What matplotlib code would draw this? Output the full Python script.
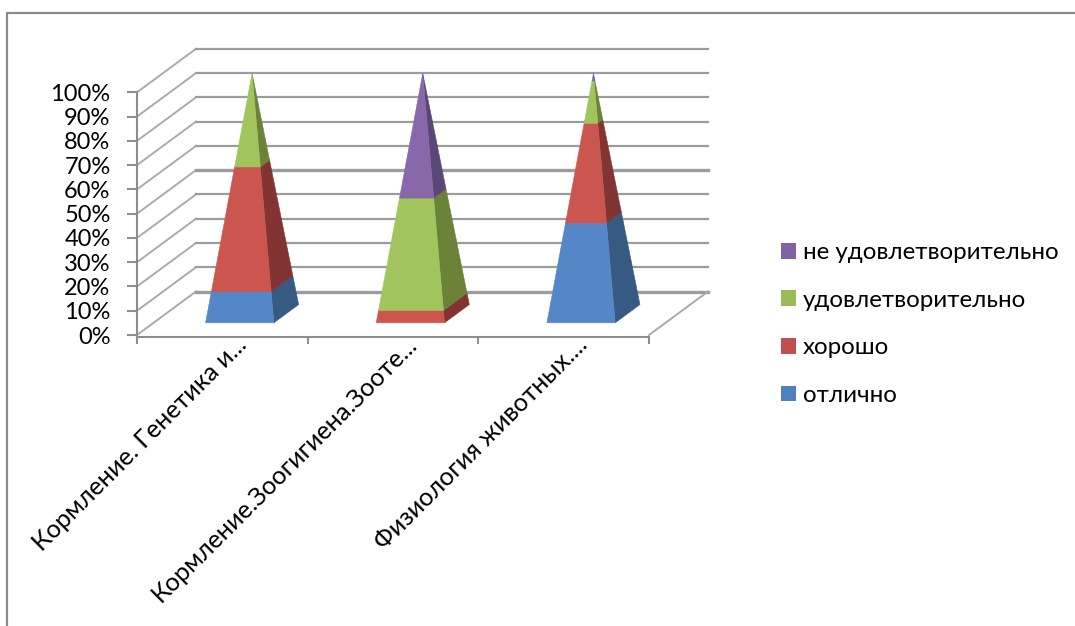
import matplotlib
matplotlib.use("Agg")
import matplotlib.pyplot as plt
from matplotlib.lines import Line2D
from matplotlib.patches import Patch, Polygon

FONT = ["Lato", "Open Sans", "DejaVu Sans"]
plt.rcParams["font.family"] = FONT

categories = ["Кормление. Генетика и...", "Кормление.Зоогигиена.Зооте...", "Физиология животных...."]
series_names = ["отлично", "хорошо", "удовлетворительно", "не удовлетворительно"]
otlichno = [12.5, 0, 40]
horosho = [50, 5, 40]
udovl = [37.5, 45, 17]
ne_udovl = [0, 50, 3]
y_ticks = [0, 10, 20, 30, 40, 50, 60, 70, 80, 90, 100]
series = [otlichno, horosho, udovl, ne_udovl]

front_cols = ["#5586C8", "#CB5650", "#A2C45C", "#8868A9"]
side_cols = ["#365A82", "#823432", "#6B8239", "#5A4776"]
legend_cols = ["#4F81BD", "#C0504D", "#9BBB59", "#8064A2"]
GRID = "#9C9C9C"
AXIS = "#8E8E8E"

W, H = 1075, 626
fig = plt.figure(figsize=(W / 100, H / 100), dpi=100, facecolor="white")
fig.add_artist(Line2D([6.5 / W, 6.5 / W, 1.0], [0, 1 - 12.5 / H, 1 - 12.5 / H],
                      transform=fig.transFigure, color="#8A8A8A", lw=1.6))

ax = fig.add_axes([137 / W, 1 - 335 / H, (649 - 137) / W, (335 - 92.3) / H])
ax.set_xlim(0, 3)
ax.set_ylim(0, 100)
ax.patch.set_alpha(0)

# oblique projection: depth d (0 front .. 1 back) shifts a point right and up
DX = 59 / ((649 - 137) / 3)
DY = 43.5 / ((335 - 92.3) / 100)
def proj(x, y, d):
    return (x + d * DX, y + d * DY)

# walls and gridlines
for t in y_ticks:
    strong = t in (0, 50)
    ax.plot(*zip(proj(0, t, 0), proj(0, t, 1)), color="#ABABAB", lw=1.4, clip_on=False, zorder=1)
    ax.plot(*zip(proj(0, t, 1), proj(3, t, 1)), color=GRID, lw=2.4 if strong else 1.6,
            clip_on=False, zorder=1)
ax.plot(*zip(proj(3, 0, 0), proj(3, 0, 1)), color="#ABABAB", lw=1.4, clip_on=False, zorder=1)

# pyramids
CENTER_SHIFT = 0.505
D_MID, D_HALF, HALF_W, PEAK = 0.49, 0.21, 0.2, 0.99
def corner(i, v, sx, sd):
    k = 1 - v / 100
    return proj(i + CENTER_SHIFT + sx * HALF_W * k, v * PEAK, D_MID + sd * D_HALF * k)

for i in range(len(categories)):
    base = 0
    for s, vals in enumerate(series):
        top = base + vals[i]
        if vals[i] > 0:
            ax.add_patch(Polygon([corner(i, base, 1, -1), corner(i, base, 1, 1),
                                  corner(i, top, 1, 1), corner(i, top, 1, -1)],
                                 fc=side_cols[s], ec=side_cols[s], lw=0.4, clip_on=False, zorder=3))
            ax.add_patch(Polygon([corner(i, base, -1, -1), corner(i, base, 1, -1),
                                  corner(i, top, 1, -1), corner(i, top, -1, -1)],
                                 fc=front_cols[s], ec=front_cols[s], lw=0.4, clip_on=False, zorder=4))
        base = top

# axes
for name in ("top", "right"):
    ax.spines[name].set_visible(False)
for name in ("left", "bottom"):
    ax.spines[name].set_color(AXIS)
    ax.spines[name].set_linewidth(1.5)
ax.spines["bottom"].set_position(("outward", 1.2))
ax.set_yticks(y_ticks)
ax.set_yticklabels([f"{t}%" for t in y_ticks], fontsize=17, color="black")
ax.tick_params(axis="y", length=7, width=1.5, color=AXIS, pad=12)
ax.set_xticks(range(len(categories) + 1))
ax.set_xticklabels([])
ax.tick_params(axis="x", which="major", length=5, width=1.5, color=AXIS)
ax.set_xticks([i + 0.57 for i in range(len(categories))], minor=True)
ax.set_xticklabels(categories, minor=True, rotation=45, ha="right", va="top",
                   rotation_mode="anchor", fontsize=18.2, color="black")
ax.tick_params(axis="x", which="minor", length=0, pad=-3)

# legend
handles = [Patch(fc=legend_cols[s], ec="none", label=series_names[s]) for s in (3, 2, 1, 0)]
fig.legend(handles=handles, loc="upper left", bbox_to_anchor=(759 / W, 1 - 220.5 / H), frameon=False,
           fontsize=17.4, handlelength=0.62, handleheight=0.62, handletextpad=0.3, labelspacing=1.1)

fig.savefig("out.png", dpi=100)
